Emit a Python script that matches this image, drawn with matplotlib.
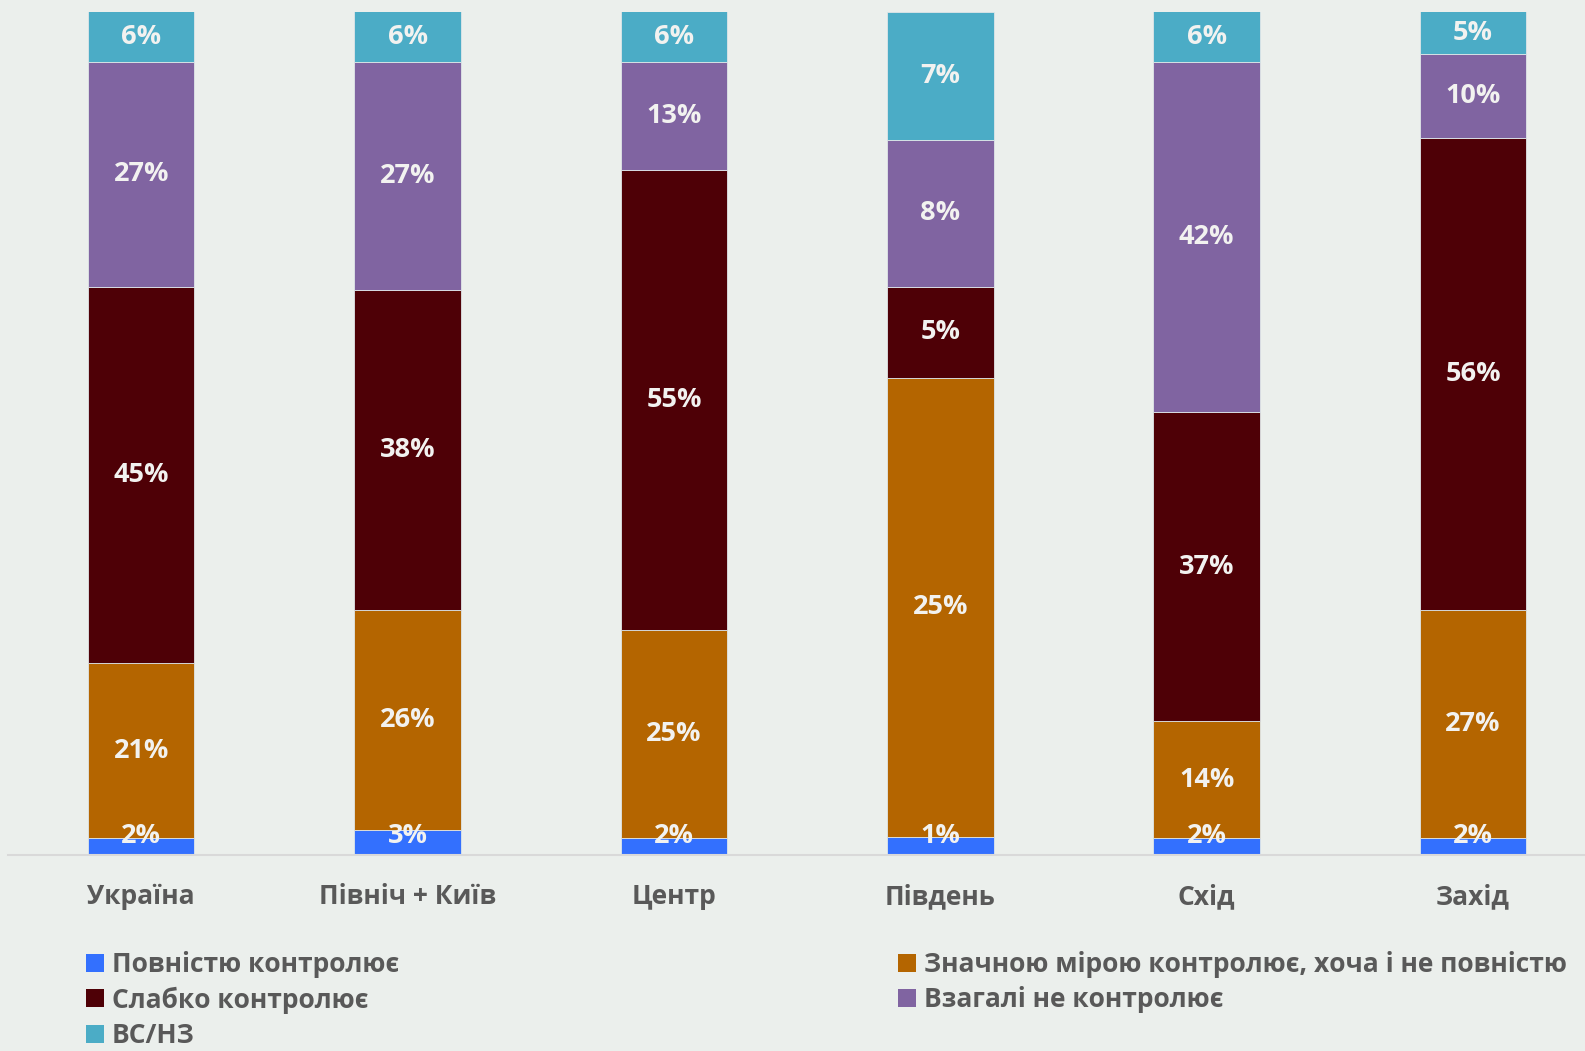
import numpy as np
import matplotlib.pyplot as plt
from matplotlib.patches import Rectangle

plt.rcParams['font.family'] = ['Open Sans', 'DejaVu Sans']

regions = ["Україна", "Північ + Київ", "Центр", "Південь", "Схід", "Захід"]
series = ["Повністю контролює",
          "Значною мірою контролює, хоча і не повністю",
          "Слабко контролює",
          "Взагалі не контролює",
          "ВС/НЗ"]
full_ctrl = [2, 3, 2, 1, 2, 2]
mostly_ctrl = [21, 26, 25, 25, 14, 27]
weak_ctrl = [45, 38, 55, 5, 37, 56]
no_ctrl = [27, 27, 13, 8, 42, 10]
dk = [6, 6, 6, 7, 6, 5]

colors = ["#3370FE", "#B46500", "#4E0006", "#8064A1", "#4BACC6"]
BG = "#EBEFEC"

data = np.array([full_ctrl, mostly_ctrl, weak_ctrl, no_ctrl, dk], dtype=float)
shares = data / data.sum(axis=0) * 100  # 100% stacked

fig = plt.figure(figsize=(15.85, 10.51), dpi=100, facecolor=BG)
ax = fig.add_axes([8 / 1585, 1 - 855 / 1051, 1 - 8 / 1585, (855 - 11.5) / 1051])
ax.set_facecolor(BG)

x = np.arange(len(regions))
bottom = np.zeros(len(regions))
handles = []
for i, (name, col) in enumerate(zip(series, colors)):
    ax.bar(x, shares[i], 0.4, bottom=bottom, color=col,
           edgecolor="#dfe6e8", linewidth=0.6, label=name)
    for j in range(len(regions)):
        if i == 0:
            yc = 2.3  # Excel pushes tiny bottom labels up
        else:
            yc = bottom[j] + shares[i][j] / 2
        ax.text(x[j], yc, f"{int(data[i][j])}%", ha="center", va="center",
                fontsize=19.5, fontweight="bold", color="#F2F2F0")
    bottom += shares[i]
    handles.append(Rectangle((0, 0), 1, 1, facecolor=col))

ax.set_xlim(-0.5, 5.42)
ax.set_ylim(0, 100)
ax.set_yticks([])
ax.set_xticks(x)
ax.set_xticklabels(regions, fontsize=19, fontweight="bold", color="#595959")
ax.tick_params(axis="x", length=0, pad=20.5)
for s in ("top", "right", "left"):
    ax.spines[s].set_visible(False)
ax.spines["bottom"].set_color("#D9D9D9")
ax.spines["bottom"].set_linewidth(1.5)

order = [0, 2, 4, 1, 3]
fig.legend([handles[k] for k in order], [series[k] for k in order],
           loc="upper left", bbox_to_anchor=(86 / 1585, 1 - 951 / 1051),
           ncol=2, frameon=False,
           prop={"weight": "bold", "size": 19},
           labelcolor="#595959", handlelength=0.68, handleheight=0.68,
           handletextpad=0.3, labelspacing=0.32, columnspacing=18.9,
           borderpad=0, borderaxespad=0)

fig.savefig("out.png", dpi=100, facecolor=BG)
